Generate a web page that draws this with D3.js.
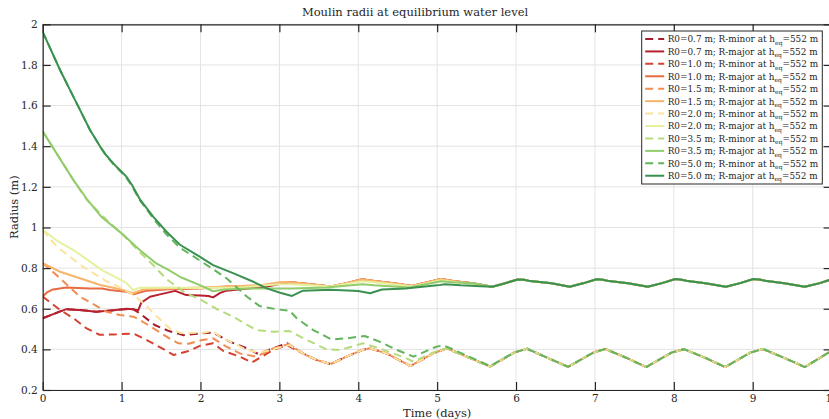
<!DOCTYPE html>
<html><head><meta charset="utf-8">
<script src="https://cdn.jsdelivr.net/npm/d3@7"></script>
<style>
html,body{margin:0;padding:0;background:#fff;}
svg{display:block;}
text{font-family:"DejaVu Serif",serif;fill:#262626;}
</style></head>
<body><svg id="chart" width="829" height="419"></svg>
<script>
// ---------- DATA ----------
const title = "Moulin radii at equilibrium water level";
const xLabel = "Time (days)";
const yLabel = "Radius (m)";
const xTicks = [0,1,2,3,4,5,6,7,8,9,10];
const yTicks = [0.2,0.4,0.6,0.8,1,1.2,1.4,1.6,1.8,2];
const colors = ["#a51c30","#b8202e","#d5422f","#e86a40","#f18c52","#f7b46b",
                "#fce39c","#e6f1a0","#b5dc7c","#92cb6b","#62b45d","#3a9150"];

// shared periodic tails (all curves overlap there)
const majorUpper = [[3.15,0.730],[3.4,0.720],[3.65,0.710],[3.85,0.725],[4.05,0.745],[4.2,0.737],[4.45,0.725],[4.68,0.712],[4.85,0.728],[5.05,0.746],[5.2,0.737],[5.45,0.725]];
const majorTail = [[5.7,0.708],[5.85,0.724],[6.02,0.744],[6.1,0.743],[6.18,0.736],[6.45,0.725],[6.68,0.708],[6.85,0.725],[7.02,0.745],[7.1,0.743],[7.18,0.736],[7.42,0.725],[7.67,0.708],[7.85,0.726],[8.02,0.746],[8.1,0.743],[8.18,0.736],[8.4,0.725],[8.66,0.708],[8.84,0.726],[9.01,0.746],[9.1,0.743],[9.18,0.736],[9.4,0.725],[9.66,0.708],[9.85,0.726],[10.0,0.745]];
const minorTail = [[3.3,0.380],[3.47,0.348],[3.65,0.328],[3.85,0.364],[4.05,0.397],[4.15,0.405],[4.36,0.380],[4.66,0.318],[4.95,0.380],[5.12,0.405],[5.4,0.360],[5.67,0.315],[5.98,0.385],[6.14,0.403],[6.4,0.358],[6.66,0.314],[6.98,0.384],[7.13,0.402],[7.4,0.358],[7.65,0.313],[7.97,0.384],[8.13,0.401],[8.4,0.358],[8.65,0.313],[8.97,0.384],[9.13,0.402],[9.4,0.358],[9.66,0.313],[9.96,0.384],[10.0,0.389]];

// early parts of each curve, [time (days), radius (m)]
const r07minor = [[0,0.553],[0.15,0.576],[0.3,0.598],[0.5,0.593],[0.68,0.585],[0.9,0.593],[1.06,0.598],[1.15,0.597],[1.23,0.577],[1.42,0.520],[1.6,0.490],[1.78,0.470],[2.0,0.478],[2.16,0.482],[2.37,0.438],[2.59,0.405],[2.73,0.378],[2.88,0.400],[3.1,0.430]];
const r07major = [[0,0.553],[0.15,0.576],[0.3,0.598],[0.5,0.593],[0.68,0.585],[0.9,0.593],[1.06,0.600],[1.15,0.598],[1.21,0.592],[1.25,0.630],[1.36,0.659],[1.5,0.672],[1.68,0.688],[1.82,0.667],[2.0,0.665],[2.1,0.663],[2.16,0.656],[2.25,0.678],[2.33,0.689],[2.6,0.700],[2.8,0.706],[3.0,0.722]];
const r10minor = [[0,0.660],[0.2,0.600],[0.4,0.550],[0.55,0.505],[0.72,0.472],[0.9,0.473],[1.15,0.478],[1.3,0.450],[1.49,0.410],[1.66,0.372],[1.85,0.392],[2.0,0.418],[2.16,0.430],[2.29,0.392],[2.5,0.364],[2.65,0.335],[2.92,0.397],[3.1,0.420]];
const r10major = [[0,0.660],[0.06,0.682],[0.13,0.695],[0.3,0.705],[0.6,0.700],[0.75,0.700],[0.85,0.692],[1.06,0.684],[1.15,0.671],[1.32,0.689],[1.6,0.696],[2.0,0.700],[2.33,0.709],[2.75,0.710],[3.0,0.728]];
const r15minor = [[0,0.825],[0.22,0.750],[0.47,0.660],[0.81,0.585],[0.98,0.569],[1.15,0.561],[1.23,0.545],[1.44,0.495],[1.6,0.455],[1.72,0.430],[1.85,0.428],[2.02,0.446],[2.16,0.454],[2.33,0.413],[2.5,0.380],[2.71,0.364],[2.92,0.405],[3.12,0.426]];
const r15major = [[0,0.825],[0.22,0.782],[0.47,0.750],[0.73,0.717],[0.98,0.696],[1.15,0.676],[1.28,0.696],[1.6,0.700],[2.0,0.705],[2.5,0.712],[2.8,0.718],[3.0,0.730]];
const r20minor = [[0,0.988],[0.18,0.905],[0.51,0.807],[0.81,0.735],[0.98,0.705],[1.15,0.668],[1.3,0.620],[1.45,0.560],[1.62,0.500],[1.75,0.480],[2.04,0.482],[2.15,0.490],[2.25,0.462],[2.59,0.397],[2.75,0.384],[3.01,0.410],[3.13,0.421]];
const r20major = [[0,0.988],[0.2,0.930],[0.39,0.889],[0.6,0.832],[0.75,0.790],[0.9,0.760],[1.06,0.727],[1.15,0.690],[1.22,0.703],[1.6,0.705],[2.0,0.702],[2.5,0.705],[3.0,0.720],[3.15,0.720],[3.65,0.710],[4.05,0.735],[4.2,0.730],[4.68,0.710],[5.05,0.740],[5.3,0.728]];
const r35minor = [[0,1.473],[0.2,1.350],[0.39,1.233],[0.56,1.135],[0.81,1.037],[1.0,0.971],[1.2,0.890],[1.4,0.815],[1.57,0.745],[1.8,0.680],[2.0,0.645],[2.2,0.600],[2.44,0.555],[2.71,0.495],[2.92,0.487],[3.13,0.490],[3.35,0.446],[3.6,0.400],[3.77,0.397],[4.06,0.430],[4.27,0.405],[4.61,0.356],[4.7,0.340],[4.95,0.385]];
const r35major = [[0,1.473],[0.2,1.350],[0.39,1.233],[0.56,1.140],[0.75,1.050],[1.0,0.971],[1.23,0.889],[1.44,0.823],[1.6,0.790],[1.75,0.755],[2.0,0.715],[2.16,0.686],[2.3,0.695],[2.6,0.700],[2.9,0.700],[3.15,0.700],[3.6,0.705],[4.05,0.720],[4.2,0.715],[4.65,0.705],[5.05,0.735],[5.2,0.730]];
const r50minor = [[0,1.963],[0.22,1.775],[0.39,1.643],[0.6,1.480],[0.73,1.397],[0.8,1.355],[0.9,1.310],[1.0,1.270],[1.06,1.245],[1.13,1.205],[1.23,1.135],[1.4,1.045],[1.57,0.965],[1.74,0.900],[1.99,0.838],[2.12,0.805],[2.33,0.750],[2.59,0.659],[2.75,0.613],[2.97,0.597],[3.13,0.590],[3.22,0.553],[3.43,0.495],[3.66,0.449],[3.85,0.454],[4.08,0.466],[4.27,0.438],[4.49,0.397],[4.7,0.364],[4.99,0.413],[5.08,0.420],[5.2,0.400],[5.67,0.318]];
const r50major = [[0,1.963],[0.22,1.775],[0.39,1.643],[0.6,1.480],[0.73,1.397],[0.8,1.358],[0.9,1.313],[1.0,1.274],[1.06,1.250],[1.13,1.210],[1.23,1.140],[1.4,1.053],[1.57,0.979],[1.74,0.915],[1.99,0.856],[2.16,0.815],[2.42,0.774],[2.67,0.733],[2.84,0.700],[3.01,0.679],[3.16,0.663],[3.3,0.689],[3.65,0.693],[4.0,0.687],[4.15,0.676],[4.3,0.695],[4.6,0.700],[5.0,0.715],[5.1,0.720],[5.3,0.715],[5.55,0.711]];

// ---------- BUILD SERIES ----------
function join(early, ...tails){
  let out = early.slice();
  for (const t of tails){ const last = out[out.length-1][0]; out = out.concat(t.filter(d => d[0] > last)); }
  return out;
}
const series = [
  {r:"0.7", kind:"minor", pts: join(r07minor, minorTail)},
  {r:"0.7", kind:"major", pts: join(r07major, majorUpper, majorTail)},
  {r:"1.0", kind:"minor", pts: join(r10minor, minorTail)},
  {r:"1.0", kind:"major", pts: join(r10major, majorUpper, majorTail)},
  {r:"1.5", kind:"minor", pts: join(r15minor, minorTail)},
  {r:"1.5", kind:"major", pts: join(r15major, majorUpper, majorTail)},
  {r:"2.0", kind:"minor", pts: join(r20minor, minorTail)},
  {r:"2.0", kind:"major", pts: join(r20major, majorTail)},
  {r:"3.5", kind:"minor", pts: join(r35minor, minorTail)},
  {r:"3.5", kind:"major", pts: join(r35major, majorUpper.filter(d=>d[0]>5.3), majorTail)},
  {r:"5.0", kind:"minor", pts: join(r50minor, minorTail)},
  {r:"5.0", kind:"major", pts: join(r50major, majorTail)}
];

// ---------- DRAW ----------
const svg = d3.select("#chart");
const L = 42.7, R = 831.6, T = 24.3, B = 390;
const x = d3.scaleLinear([0,10],[L,R]);
const y = d3.scaleLinear([0.2,2],[B,T]);
const axisCol = "#262626", gridCol = "#e3e3e3";
const FONT = "DejaVu Serif, serif";

svg.append("defs").append("clipPath").attr("id","clip")
  .append("rect").attr("x",L).attr("y",T).attr("width",R-L).attr("height",B-T);

// grid
const g = svg.append("g");
g.selectAll(".gx").data(xTicks).join("line")
  .attr("x1",d=>x(d)).attr("x2",d=>x(d)).attr("y1",T).attr("y2",B)
  .attr("stroke",gridCol).attr("stroke-width",1);
g.selectAll(".gy").data(yTicks).join("line")
  .attr("x1",L).attr("x2",R).attr("y1",d=>y(d)).attr("y2",d=>y(d))
  .attr("stroke",gridCol).attr("stroke-width",1);

// lines
const line = d3.line().x(d=>x(d[0])).y(d=>y(d[1])).curve(d3.curveLinear);
const lg = svg.append("g").attr("clip-path","url(#clip)");
series.forEach((s,i)=>{
  lg.append("path").attr("d",line(s.pts)).attr("fill","none")
    .attr("stroke",colors[i]).attr("stroke-width",2)
    .attr("stroke-linejoin","round")
    .attr("stroke-dasharray", s.kind==="minor" ? "8,5" : null);
});

// axes
function styleAxis(sel, hideText){
  sel.select(".domain").attr("stroke",axisCol).attr("stroke-width",1.2);
  sel.selectAll(".tick line").attr("stroke",axisCol).attr("stroke-width",1.2);
  sel.selectAll(".tick text").attr("font-family",FONT).attr("font-size",10.5).attr("fill",axisCol);
  if(hideText) sel.selectAll(".tick text").remove();
}
const fmt = d => d3.format("")(+d.toFixed(1));
svg.append("g").attr("transform",`translate(0,${B})`)
  .call(d3.axisBottom(x).tickValues(xTicks).tickSizeInner(-8).tickSizeOuter(0).tickPadding(5).tickFormat(fmt))
  .call(s=>styleAxis(s,false));
svg.append("g").attr("transform",`translate(0,${T})`)
  .call(d3.axisTop(x).tickValues(xTicks).tickSizeInner(-8).tickSizeOuter(0))
  .call(s=>styleAxis(s,true));
svg.append("g").attr("transform",`translate(${L},0)`)
  .call(d3.axisLeft(y).tickValues(yTicks).tickSizeInner(-8).tickSizeOuter(0).tickPadding(5).tickFormat(fmt))
  .call(s=>styleAxis(s,false));
svg.append("g").attr("transform",`translate(${R},0)`)
  .call(d3.axisRight(y).tickValues(yTicks).tickSizeInner(-8).tickSizeOuter(0))
  .call(s=>styleAxis(s,true));

// labels
svg.append("text").attr("x",415).attr("y",16).attr("text-anchor","middle")
  .attr("font-family",FONT).attr("font-size",11.5).text(title);
svg.append("text").attr("x",(L+R)/2).attr("y",417).attr("text-anchor","middle")
  .attr("font-family",FONT).attr("font-size",11.5).text(xLabel);
svg.append("text").attr("transform",`translate(18,${(T+B)/2}) rotate(-90)`).attr("text-anchor","middle")
  .attr("font-family",FONT).attr("font-size",11.5).text(yLabel);

// legend
const lx = 641.7, ly = 31, lw = 180.6, lh = 153;
const leg = svg.append("g");
leg.append("rect").attr("x",lx).attr("y",ly).attr("width",lw).attr("height",lh)
  .attr("fill","#fff").attr("stroke",axisCol).attr("stroke-width",1);
series.forEach((s,i)=>{
  const yy = ly + 8 + i*12.43;
  leg.append("line").attr("x1",lx+3.5).attr("x2",lx+22.5).attr("y1",yy).attr("y2",yy)
    .attr("stroke",colors[i]).attr("stroke-width",2)
    .attr("stroke-dasharray", s.kind==="minor" ? "8,5" : null);
  const t = leg.append("text").attr("x",lx+26).attr("y",yy+3.4)
    .attr("font-family",FONT).attr("font-size",8.9);
  t.append("tspan").text(`R0=${s.r} m; R-${s.kind} at h`);
  t.append("tspan").attr("font-size",6).attr("dy",2.3).text("eq");
  t.append("tspan").attr("dy",-2.3).text("=552 m");
});
</script></body></html>
